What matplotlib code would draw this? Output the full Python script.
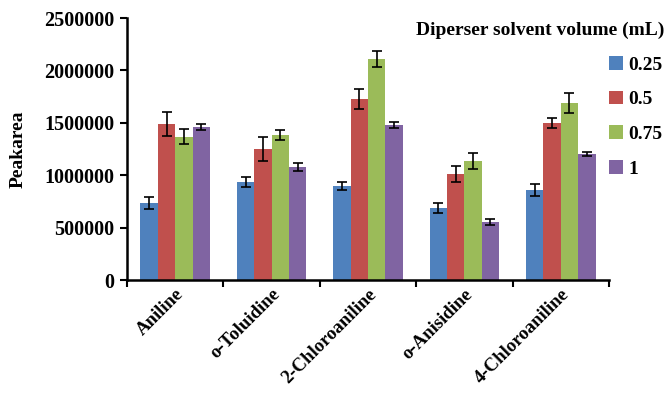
import numpy as np
import matplotlib.pyplot as plt
from matplotlib.ticker import MultipleLocator, FixedLocator, StrMethodFormatter

plt.rcParams.update({
    "font.family": ["Liberation Serif", "DejaVu Serif"],
    "font.weight": "bold",
    "axes.labelweight": "bold",
    "font.size": 14,
})

compounds = ["Aniline", "o-Toluidine", "2-Chloroaniline", "o-Anisidine", "4-Chloroaniline"]
volumes = ["0.25", "0.5", "0.75", "1"]

peak_025 = [735000, 935000, 897000, 687000, 859000]
peak_050 = [1489000, 1250000, 1727000, 1011000, 1498000]
peak_075 = [1365000, 1384000, 2109000, 1135000, 1689000]
peak_100 = [1460000, 1078000, 1479000, 553000, 1202000]

err_025 = [57000, 48000, 38000, 52000, 57000]
err_050 = [115000, 115000, 95000, 76000, 48000]
err_075 = [72000, 52000, 72000, 76000, 95000]
err_100 = [24000, 38000, 29000, 29000, 19000]

colors = ["#4F81BD", "#C0504D", "#9BBB59", "#8064A2"]

fig = plt.figure(figsize=(6.65, 3.93), dpi=100)
ax = fig.add_axes([127 / 665, 1 - 280 / 393, 482 / 665, 262 / 393])

x = np.arange(len(compounds))
w = 0.18
series = [(peak_025, err_025), (peak_050, err_050), (peak_075, err_075), (peak_100, err_100)]
for i, ((vals, errs), c, lab) in enumerate(zip(series, colors, volumes)):
    ax.bar(x + (i - 1.5) * w, vals, w, color=c, label=lab,
           yerr=errs, capsize=3.5,
           error_kw=dict(ecolor="black", elinewidth=1.2, capthick=1.2))

ax.set_xlim(-0.5, len(compounds) - 0.5)
ax.set_ylim(0, 2500000)
ax.yaxis.set_major_locator(MultipleLocator(500000))
ax.yaxis.set_major_formatter(StrMethodFormatter("{x:.0f}"))
ax.set_yticklabels(ax.get_yticklabels(), fontsize=14.5)
ax.set_xticks(x)
ax.set_xticklabels(compounds, rotation=45, ha="right", rotation_mode="anchor",
                   fontsize=13.5)
ax.xaxis.set_minor_locator(FixedLocator(np.arange(-0.5, len(compounds), 1.0)))
ax.tick_params(axis="x", which="major", length=0, pad=4)
ax.tick_params(axis="x", which="minor", length=5, width=1.5, direction="out")
ax.tick_params(axis="y", length=5, width=1.5, direction="out", pad=4)

for s in ["top", "right"]:
    ax.spines[s].set_visible(False)
for s in ["left", "bottom"]:
    ax.spines[s].set_linewidth(1.8)

ax.set_ylabel("Peakarea")
ax.yaxis.set_label_coords(-100 / 482, 0.5)

fig.text(664 / 665, 1 - 30 / 393, "Diperser solvent volume (mL)",
         ha="right", va="center", fontsize=14, fontweight="bold")
fig.legend(loc="upper left", bbox_to_anchor=(609 / 665, 1 - 56 / 393),
           frameon=False, handlelength=0.7, handleheight=0.7,
           handletextpad=0.3, labelspacing=0.88, borderaxespad=0, borderpad=0)

fig.savefig("out.png", dpi=100)
